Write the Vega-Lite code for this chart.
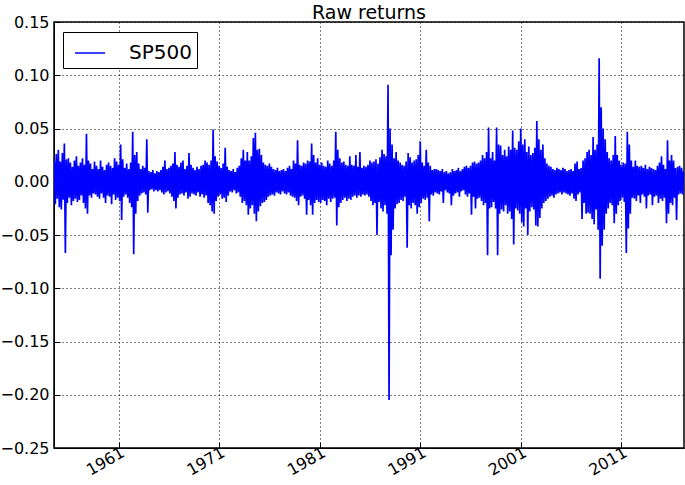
{
"$schema":"https://vega.github.io/schema/vega-lite/v6.json",
"autosize":{"type":"none"},
"padding":{"left":54,"top":22,"right":1,"bottom":37},
"width":630,"height":426,
"background":"white",
"config":{"font":"DejaVu Sans","view":{"stroke":"black","strokeWidth":1.5}},
"title":{"text":"Raw returns","fontSize":19,"fontWeight":"normal","font":"DejaVu Sans","color":"black","offset":0,"dy":9,"anchor":"middle","frame":"group"},
"data":{"values":[
{"t":1954.6,"r":0.02},{"t":1954.7,"r":-0.021},{"t":1954.8,"r":0.026},{"t":1954.9,"r":-0.016},
{"t":1955.0,"r":0.03},{"t":1955.1,"r":-0.024},{"t":1955.2,"r":0.019},{"t":1955.3,"r":-0.026},{"t":1955.4,"r":0.027},{"t":1955.5,"r":-0.017},{"t":1955.6,"r":0.036},{"t":1955.7,"r":-0.067},{"t":1955.8,"r":0.021},{"t":1955.9,"r":-0.02},
{"t":1956.0,"r":0.022},{"t":1956.1,"r":-0.015},{"t":1956.2,"r":0.018},{"t":1956.3,"r":-0.022},{"t":1956.4,"r":0.014},{"t":1956.5,"r":-0.018},{"t":1956.6,"r":0.02},{"t":1956.7,"r":-0.016},{"t":1956.8,"r":0.024},{"t":1956.9,"r":-0.019},
{"t":1957.0,"r":0.015},{"t":1957.1,"r":-0.017},{"t":1957.2,"r":0.018},{"t":1957.3,"r":-0.013},{"t":1957.4,"r":0.022},{"t":1957.5,"r":-0.02},{"t":1957.6,"r":0.016},{"t":1957.7,"r":-0.025},{"t":1957.8,"r":0.045},{"t":1957.9,"r":-0.03},
{"t":1958.0,"r":0.02},{"t":1958.1,"r":-0.013},{"t":1958.2,"r":0.017},{"t":1958.3,"r":-0.015},{"t":1958.4,"r":0.012},{"t":1958.5,"r":-0.011},{"t":1958.6,"r":0.019},{"t":1958.7,"r":-0.012},{"t":1958.8,"r":0.015},{"t":1958.9,"r":-0.014},
{"t":1959.0,"r":0.012},{"t":1959.1,"r":-0.016},{"t":1959.2,"r":0.02},{"t":1959.3,"r":-0.011},{"t":1959.4,"r":0.014},{"t":1959.5,"r":-0.015},{"t":1959.6,"r":0.011},{"t":1959.7,"r":-0.02},{"t":1959.8,"r":0.016},{"t":1959.9,"r":-0.013},
{"t":1960.0,"r":0.018},{"t":1960.1,"r":-0.014},{"t":1960.2,"r":0.015},{"t":1960.3,"r":-0.021},{"t":1960.4,"r":0.013},{"t":1960.5,"r":-0.012},{"t":1960.6,"r":0.022},{"t":1960.7,"r":-0.017},{"t":1960.8,"r":0.019},{"t":1960.9,"r":-0.015},
{"t":1961.0,"r":0.016},{"t":1961.1,"r":-0.018},{"t":1961.2,"r":0.035},{"t":1961.3,"r":-0.036},{"t":1961.4,"r":0.021},{"t":1961.5,"r":-0.014},{"t":1961.6,"r":0.013},{"t":1961.7,"r":-0.012},{"t":1961.8,"r":0.017},{"t":1961.9,"r":-0.015},
{"t":1962.0,"r":0.012},{"t":1962.1,"r":-0.02},{"t":1962.2,"r":0.018},{"t":1962.3,"r":-0.024},{"t":1962.4,"r":0.047},{"t":1962.5,"r":-0.068},{"t":1962.6,"r":0.025},{"t":1962.7,"r":-0.03},{"t":1962.8,"r":0.028},{"t":1962.9,"r":-0.018},
{"t":1963.0,"r":0.017},{"t":1963.1,"r":-0.013},{"t":1963.2,"r":0.012},{"t":1963.3,"r":-0.011},{"t":1963.4,"r":0.015},{"t":1963.5,"r":-0.01},{"t":1963.6,"r":0.013},{"t":1963.7,"r":-0.012},{"t":1963.8,"r":0.04},{"t":1963.9,"r":-0.029},
{"t":1964.0,"r":0.01},{"t":1964.1,"r":-0.008},{"t":1964.2,"r":0.009},{"t":1964.3,"r":-0.007},{"t":1964.4,"r":0.011},{"t":1964.5,"r":-0.009},{"t":1964.6,"r":0.008},{"t":1964.7,"r":-0.008},{"t":1964.8,"r":0.01},{"t":1964.9,"r":-0.009},
{"t":1965.0,"r":0.009},{"t":1965.1,"r":-0.008},{"t":1965.2,"r":0.011},{"t":1965.3,"r":-0.01},{"t":1965.4,"r":0.014},{"t":1965.5,"r":-0.012},{"t":1965.6,"r":0.02},{"t":1965.7,"r":-0.01},{"t":1965.8,"r":0.012},{"t":1965.9,"r":-0.009},
{"t":1966.0,"r":0.013},{"t":1966.1,"r":-0.011},{"t":1966.2,"r":0.015},{"t":1966.3,"r":-0.014},{"t":1966.4,"r":0.017},{"t":1966.5,"r":-0.018},{"t":1966.6,"r":0.028},{"t":1966.7,"r":-0.025},{"t":1966.8,"r":0.016},{"t":1966.9,"r":-0.015},
{"t":1967.0,"r":0.014},{"t":1967.1,"r":-0.012},{"t":1967.2,"r":0.018},{"t":1967.3,"r":-0.011},{"t":1967.4,"r":0.02},{"t":1967.5,"r":-0.013},{"t":1967.6,"r":0.012},{"t":1967.7,"r":-0.01},{"t":1967.8,"r":0.015},{"t":1967.9,"r":-0.016},
{"t":1968.0,"r":0.027},{"t":1968.1,"r":-0.014},{"t":1968.2,"r":0.016},{"t":1968.3,"r":-0.011},{"t":1968.4,"r":0.013},{"t":1968.5,"r":-0.012},{"t":1968.6,"r":0.011},{"t":1968.7,"r":-0.013},{"t":1968.8,"r":0.014},{"t":1968.9,"r":-0.01},
{"t":1969.0,"r":0.012},{"t":1969.1,"r":-0.014},{"t":1969.2,"r":0.015},{"t":1969.3,"r":-0.012},{"t":1969.4,"r":0.016},{"t":1969.5,"r":-0.015},{"t":1969.6,"r":0.02},{"t":1969.7,"r":-0.013},{"t":1969.8,"r":0.018},{"t":1969.9,"r":-0.02},
{"t":1970.0,"r":0.016},{"t":1970.1,"r":-0.022},{"t":1970.2,"r":0.02},{"t":1970.3,"r":-0.028},{"t":1970.4,"r":0.049},{"t":1970.5,"r":-0.03},{"t":1970.6,"r":0.024},{"t":1970.7,"r":-0.018},{"t":1970.8,"r":0.019},{"t":1970.9,"r":-0.014},
{"t":1971.0,"r":0.015},{"t":1971.1,"r":-0.012},{"t":1971.2,"r":0.013},{"t":1971.3,"r":-0.016},{"t":1971.4,"r":0.017},{"t":1971.5,"r":-0.015},{"t":1971.6,"r":0.032},{"t":1971.7,"r":-0.019},{"t":1971.8,"r":0.014},{"t":1971.9,"r":-0.013},
{"t":1972.0,"r":0.011},{"t":1972.1,"r":-0.009},{"t":1972.2,"r":0.01},{"t":1972.3,"r":-0.01},{"t":1972.4,"r":0.012},{"t":1972.5,"r":-0.008},{"t":1972.6,"r":0.009},{"t":1972.7,"r":-0.011},{"t":1972.8,"r":0.013},{"t":1972.9,"r":-0.01},
{"t":1973.0,"r":0.015},{"t":1973.1,"r":-0.014},{"t":1973.2,"r":0.022},{"t":1973.3,"r":-0.02},{"t":1973.4,"r":0.03},{"t":1973.5,"r":-0.018},{"t":1973.6,"r":0.02},{"t":1973.7,"r":-0.022},{"t":1973.8,"r":0.028},{"t":1973.9,"r":-0.031},
{"t":1974.0,"r":0.02},{"t":1974.1,"r":-0.025},{"t":1974.2,"r":0.024},{"t":1974.3,"r":-0.022},{"t":1974.4,"r":0.041},{"t":1974.5,"r":-0.03},{"t":1974.6,"r":0.046},{"t":1974.7,"r":-0.037},{"t":1974.8,"r":0.03},{"t":1974.9,"r":-0.028},
{"t":1975.0,"r":0.031},{"t":1975.1,"r":-0.023},{"t":1975.2,"r":0.025},{"t":1975.3,"r":-0.02},{"t":1975.4,"r":0.018},{"t":1975.5,"r":-0.019},{"t":1975.6,"r":0.016},{"t":1975.7,"r":-0.017},{"t":1975.8,"r":0.015},{"t":1975.9,"r":-0.014},
{"t":1976.0,"r":0.017},{"t":1976.1,"r":-0.013},{"t":1976.2,"r":0.014},{"t":1976.3,"r":-0.012},{"t":1976.4,"r":0.012},{"t":1976.5,"r":-0.013},{"t":1976.6,"r":0.011},{"t":1976.7,"r":-0.01},{"t":1976.8,"r":0.013},{"t":1976.9,"r":-0.011},
{"t":1977.0,"r":0.01},{"t":1977.1,"r":-0.012},{"t":1977.2,"r":0.011},{"t":1977.3,"r":-0.009},{"t":1977.4,"r":0.012},{"t":1977.5,"r":-0.011},{"t":1977.6,"r":0.01},{"t":1977.7,"r":-0.012},{"t":1977.8,"r":0.013},{"t":1977.9,"r":-0.01},
{"t":1978.0,"r":0.015},{"t":1978.1,"r":-0.013},{"t":1978.2,"r":0.012},{"t":1978.3,"r":-0.014},{"t":1978.4,"r":0.02},{"t":1978.5,"r":-0.015},{"t":1978.6,"r":0.017},{"t":1978.7,"r":-0.018},{"t":1978.8,"r":0.039},{"t":1978.9,"r":-0.022},
{"t":1979.0,"r":0.016},{"t":1979.1,"r":-0.014},{"t":1979.2,"r":0.015},{"t":1979.3,"r":-0.013},{"t":1979.4,"r":0.018},{"t":1979.5,"r":-0.016},{"t":1979.6,"r":0.017},{"t":1979.7,"r":-0.031},{"t":1979.8,"r":0.02},{"t":1979.9,"r":-0.017},
{"t":1980.0,"r":0.019},{"t":1980.1,"r":-0.022},{"t":1980.2,"r":0.036},{"t":1980.3,"r":-0.031},{"t":1980.4,"r":0.025},{"t":1980.5,"r":-0.02},{"t":1980.6,"r":0.018},{"t":1980.7,"r":-0.017},{"t":1980.8,"r":0.022},{"t":1980.9,"r":-0.019},
{"t":1981.0,"r":0.016},{"t":1981.1,"r":-0.02},{"t":1981.2,"r":0.018},{"t":1981.3,"r":-0.017},{"t":1981.4,"r":0.015},{"t":1981.5,"r":-0.018},{"t":1981.6,"r":0.014},{"t":1981.7,"r":-0.022},{"t":1981.8,"r":0.02},{"t":1981.9,"r":-0.016},
{"t":1982.0,"r":0.017},{"t":1982.1,"r":-0.019},{"t":1982.2,"r":0.015},{"t":1982.3,"r":-0.016},{"t":1982.4,"r":0.02},{"t":1982.5,"r":-0.015},{"t":1982.6,"r":0.047},{"t":1982.7,"r":-0.041},{"t":1982.8,"r":0.03},{"t":1982.9,"r":-0.024},
{"t":1983.0,"r":0.022},{"t":1983.1,"r":-0.02},{"t":1983.2,"r":0.018},{"t":1983.3,"r":-0.017},{"t":1983.4,"r":0.019},{"t":1983.5,"r":-0.015},{"t":1983.6,"r":0.016},{"t":1983.7,"r":-0.018},{"t":1983.8,"r":0.015},{"t":1983.9,"r":-0.016},
{"t":1984.0,"r":0.024},{"t":1984.1,"r":-0.017},{"t":1984.2,"r":0.016},{"t":1984.3,"r":-0.014},{"t":1984.4,"r":0.015},{"t":1984.5,"r":-0.013},{"t":1984.6,"r":0.025},{"t":1984.7,"r":-0.015},{"t":1984.8,"r":0.014},{"t":1984.9,"r":-0.013},
{"t":1985.0,"r":0.028},{"t":1985.1,"r":-0.014},{"t":1985.2,"r":0.013},{"t":1985.3,"r":-0.012},{"t":1985.4,"r":0.015},{"t":1985.5,"r":-0.013},{"t":1985.6,"r":0.014},{"t":1985.7,"r":-0.012},{"t":1985.8,"r":0.016},{"t":1985.9,"r":-0.014},
{"t":1986.0,"r":0.02},{"t":1986.1,"r":-0.018},{"t":1986.2,"r":0.018},{"t":1986.3,"r":-0.022},{"t":1986.4,"r":0.019},{"t":1986.5,"r":-0.02},{"t":1986.6,"r":0.021},{"t":1986.7,"r":-0.05},{"t":1986.8,"r":0.017},{"t":1986.9,"r":-0.019},
{"t":1987.0,"r":0.023},{"t":1987.1,"r":-0.025},{"t":1987.2,"r":0.03},{"t":1987.3,"r":-0.028},{"t":1987.4,"r":0.026},{"t":1987.5,"r":-0.022},{"t":1987.6,"r":0.024},{"t":1987.7,"r":-0.03},{"t":1987.8,"r":0.091},{"t":1987.9,"r":-0.205},
{"t":1988.0,"r":0.05},{"t":1988.1,"r":-0.069},{"t":1988.2,"r":0.035},{"t":1988.3,"r":-0.045},{"t":1988.4,"r":0.022},{"t":1988.5,"r":-0.025},{"t":1988.6,"r":0.028},{"t":1988.7,"r":-0.021},{"t":1988.8,"r":0.02},{"t":1988.9,"r":-0.02},
{"t":1989.0,"r":0.018},{"t":1989.1,"r":-0.017},{"t":1989.2,"r":0.016},{"t":1989.3,"r":-0.018},{"t":1989.4,"r":0.015},{"t":1989.5,"r":-0.014},{"t":1989.6,"r":0.019},{"t":1989.7,"r":-0.062},{"t":1989.8,"r":0.027},{"t":1989.9,"r":-0.022},
{"t":1990.0,"r":0.023},{"t":1990.1,"r":-0.025},{"t":1990.2,"r":0.018},{"t":1990.3,"r":-0.02},{"t":1990.4,"r":0.02},{"t":1990.5,"r":-0.022},{"t":1990.6,"r":0.021},{"t":1990.7,"r":-0.03},{"t":1990.8,"r":0.025},{"t":1990.9,"r":-0.024},
{"t":1991.0,"r":0.038},{"t":1991.1,"r":-0.02},{"t":1991.2,"r":0.018},{"t":1991.3,"r":-0.016},{"t":1991.4,"r":0.015},{"t":1991.5,"r":-0.017},{"t":1991.6,"r":0.03},{"t":1991.7,"r":-0.015},{"t":1991.8,"r":0.018},{"t":1991.9,"r":-0.037},
{"t":1992.0,"r":0.015},{"t":1992.1,"r":-0.012},{"t":1992.2,"r":0.011},{"t":1992.3,"r":-0.013},{"t":1992.4,"r":0.012},{"t":1992.5,"r":-0.01},{"t":1992.6,"r":0.012},{"t":1992.7,"r":-0.011},{"t":1992.8,"r":0.011},{"t":1992.9,"r":-0.012},
{"t":1993.0,"r":0.01},{"t":1993.1,"r":-0.009},{"t":1993.2,"r":0.012},{"t":1993.3,"r":-0.02},{"t":1993.4,"r":0.009},{"t":1993.5,"r":-0.008},{"t":1993.6,"r":0.01},{"t":1993.7,"r":-0.01},{"t":1993.8,"r":0.008},{"t":1993.9,"r":-0.011},
{"t":1994.0,"r":0.009},{"t":1994.1,"r":-0.022},{"t":1994.2,"r":0.012},{"t":1994.3,"r":-0.013},{"t":1994.4,"r":0.01},{"t":1994.5,"r":-0.011},{"t":1994.6,"r":0.011},{"t":1994.7,"r":-0.01},{"t":1994.8,"r":0.013},{"t":1994.9,"r":-0.014},
{"t":1995.0,"r":0.01},{"t":1995.1,"r":-0.009},{"t":1995.2,"r":0.012},{"t":1995.3,"r":-0.008},{"t":1995.4,"r":0.014},{"t":1995.5,"r":-0.012},{"t":1995.6,"r":0.015},{"t":1995.7,"r":-0.014},{"t":1995.8,"r":0.013},{"t":1995.9,"r":-0.011},
{"t":1996.0,"r":0.015},{"t":1996.1,"r":-0.031},{"t":1996.2,"r":0.018},{"t":1996.3,"r":-0.014},{"t":1996.4,"r":0.019},{"t":1996.5,"r":-0.025},{"t":1996.6,"r":0.017},{"t":1996.7,"r":-0.016},{"t":1996.8,"r":0.018},{"t":1996.9,"r":-0.015},
{"t":1997.0,"r":0.02},{"t":1997.1,"r":-0.018},{"t":1997.2,"r":0.025},{"t":1997.3,"r":-0.022},{"t":1997.4,"r":0.022},{"t":1997.5,"r":-0.02},{"t":1997.6,"r":0.028},{"t":1997.7,"r":-0.069},{"t":1997.8,"r":0.051},{"t":1997.9,"r":-0.025},
{"t":1998.0,"r":0.022},{"t":1998.1,"r":-0.024},{"t":1998.2,"r":0.028},{"t":1998.3,"r":-0.019},{"t":1998.4,"r":0.02},{"t":1998.5,"r":-0.025},{"t":1998.6,"r":0.051},{"t":1998.7,"r":-0.069},{"t":1998.8,"r":0.035},{"t":1998.9,"r":-0.03},
{"t":1999.0,"r":0.034},{"t":1999.1,"r":-0.026},{"t":1999.2,"r":0.025},{"t":1999.3,"r":-0.028},{"t":1999.4,"r":0.03},{"t":1999.5,"r":-0.022},{"t":1999.6,"r":0.024},{"t":1999.7,"r":-0.03},{"t":1999.8,"r":0.033},{"t":1999.9,"r":-0.028},
{"t":2000.0,"r":0.03},{"t":2000.1,"r":-0.035},{"t":2000.2,"r":0.048},{"t":2000.3,"r":-0.059},{"t":2000.4,"r":0.032},{"t":2000.5,"r":-0.025},{"t":2000.6,"r":0.03},{"t":2000.7,"r":-0.027},{"t":2000.8,"r":0.038},{"t":2000.9,"r":-0.03},
{"t":2001.0,"r":0.05},{"t":2001.1,"r":-0.038},{"t":2001.2,"r":0.035},{"t":2001.3,"r":-0.042},{"t":2001.4,"r":0.04},{"t":2001.5,"r":-0.025},{"t":2001.6,"r":0.028},{"t":2001.7,"r":-0.05},{"t":2001.8,"r":0.033},{"t":2001.9,"r":-0.028},
{"t":2002.0,"r":0.025},{"t":2002.1,"r":-0.024},{"t":2002.2,"r":0.027},{"t":2002.3,"r":-0.026},{"t":2002.4,"r":0.032},{"t":2002.5,"r":-0.041},{"t":2002.6,"r":0.057},{"t":2002.7,"r":-0.042},{"t":2002.8,"r":0.04},{"t":2002.9,"r":-0.034},
{"t":2003.0,"r":0.03},{"t":2003.1,"r":-0.025},{"t":2003.2,"r":0.035},{"t":2003.3,"r":-0.02},{"t":2003.4,"r":0.022},{"t":2003.5,"r":-0.018},{"t":2003.6,"r":0.017},{"t":2003.7,"r":-0.016},{"t":2003.8,"r":0.015},{"t":2003.9,"r":-0.014},
{"t":2004.0,"r":0.014},{"t":2004.1,"r":-0.013},{"t":2004.2,"r":0.012},{"t":2004.3,"r":-0.015},{"t":2004.4,"r":0.011},{"t":2004.5,"r":-0.012},{"t":2004.6,"r":0.013},{"t":2004.7,"r":-0.011},{"t":2004.8,"r":0.012},{"t":2004.9,"r":-0.01},
{"t":2005.0,"r":0.011},{"t":2005.1,"r":-0.012},{"t":2005.2,"r":0.013},{"t":2005.3,"r":-0.01},{"t":2005.4,"r":0.012},{"t":2005.5,"r":-0.011},{"t":2005.6,"r":0.01},{"t":2005.7,"r":-0.012},{"t":2005.8,"r":0.011},{"t":2005.9,"r":-0.013},
{"t":2006.0,"r":0.012},{"t":2006.1,"r":-0.011},{"t":2006.2,"r":0.01},{"t":2006.3,"r":-0.016},{"t":2006.4,"r":0.017},{"t":2006.5,"r":-0.018},{"t":2006.6,"r":0.019},{"t":2006.7,"r":-0.012},{"t":2006.8,"r":0.012},{"t":2006.9,"r":-0.01},
{"t":2007.0,"r":0.013},{"t":2007.1,"r":-0.035},{"t":2007.2,"r":0.02},{"t":2007.3,"r":-0.02},{"t":2007.4,"r":0.022},{"t":2007.5,"r":-0.03},{"t":2007.6,"r":0.028},{"t":2007.7,"r":-0.029},{"t":2007.8,"r":0.03},{"t":2007.9,"r":-0.03},
{"t":2008.0,"r":0.025},{"t":2008.1,"r":-0.035},{"t":2008.2,"r":0.042},{"t":2008.3,"r":-0.04},{"t":2008.4,"r":0.03},{"t":2008.5,"r":-0.026},{"t":2008.6,"r":0.035},{"t":2008.7,"r":-0.045},{"t":2008.8,"r":0.116},{"t":2008.9,"r":-0.091},
{"t":2009.0,"r":0.07},{"t":2009.1,"r":-0.06},{"t":2009.2,"r":0.05},{"t":2009.3,"r":-0.045},{"t":2009.4,"r":0.04},{"t":2009.5,"r":-0.03},{"t":2009.6,"r":0.028},{"t":2009.7,"r":-0.025},{"t":2009.8,"r":0.022},{"t":2009.9,"r":-0.02},
{"t":2010.0,"r":0.02},{"t":2010.1,"r":-0.022},{"t":2010.2,"r":0.025},{"t":2010.3,"r":-0.039},{"t":2010.4,"r":0.043},{"t":2010.5,"r":-0.03},{"t":2010.6,"r":0.025},{"t":2010.7,"r":-0.022},{"t":2010.8,"r":0.02},{"t":2010.9,"r":-0.018},
{"t":2011.0,"r":0.016},{"t":2011.1,"r":-0.015},{"t":2011.2,"r":0.018},{"t":2011.3,"r":-0.019},{"t":2011.4,"r":0.017},{"t":2011.5,"r":-0.067},{"t":2011.6,"r":0.047},{"t":2011.7,"r":-0.044},{"t":2011.8,"r":0.035},{"t":2011.9,"r":-0.03},
{"t":2012.0,"r":0.02},{"t":2012.1,"r":-0.015},{"t":2012.2,"r":0.014},{"t":2012.3,"r":-0.016},{"t":2012.4,"r":0.02},{"t":2012.5,"r":-0.018},{"t":2012.6,"r":0.015},{"t":2012.7,"r":-0.013},{"t":2012.8,"r":0.014},{"t":2012.9,"r":-0.02},
{"t":2013.0,"r":0.015},{"t":2013.1,"r":-0.012},{"t":2013.2,"r":0.013},{"t":2013.3,"r":-0.014},{"t":2013.4,"r":0.016},{"t":2013.5,"r":-0.025},{"t":2013.6,"r":0.012},{"t":2013.7,"r":-0.013},{"t":2013.8,"r":0.014},{"t":2013.9,"r":-0.012},
{"t":2014.0,"r":0.013},{"t":2014.1,"r":-0.022},{"t":2014.2,"r":0.012},{"t":2014.3,"r":-0.014},{"t":2014.4,"r":0.011},{"t":2014.5,"r":-0.013},{"t":2014.6,"r":0.015},{"t":2014.7,"r":-0.02},{"t":2014.8,"r":0.018},{"t":2014.9,"r":-0.016},
{"t":2015.0,"r":0.024},{"t":2015.1,"r":-0.018},{"t":2015.2,"r":0.016},{"t":2015.3,"r":-0.015},{"t":2015.4,"r":0.012},{"t":2015.5,"r":-0.039},{"t":2015.6,"r":0.039},{"t":2015.7,"r":-0.03},{"t":2015.8,"r":0.02},{"t":2015.9,"r":-0.02},
{"t":2016.0,"r":0.025},{"t":2016.1,"r":-0.022},{"t":2016.2,"r":0.02},{"t":2016.3,"r":-0.015},{"t":2016.4,"r":0.013},{"t":2016.5,"r":-0.036},{"t":2016.6,"r":0.014},{"t":2016.7,"r":-0.012},{"t":2016.8,"r":0.015},{"t":2016.9,"r":-0.011},
{"t":2017.0,"r":0.013},{"t":2017.1,"r":-0.012},{"t":2017.2,"r":0.01}
]},
"mark":{"type":"line","strokeWidth":1.7,"clip":true},
"encoding":{
"x":{"field":"t","type":"quantitative","scale":{"domain":[1954.57,2017.24],"nice":false,"zero":false},
"axis":{"title":null,"values":[1961,1971,1981,1991,2001,2011],"format":"d","labelAngle":-30,"labelAlign":"right","labelBaseline":"top","labelFontSize":16,"labelColor":"black","labelFont":"DejaVu Sans","tickSize":-6,"tickColor":"black","labelPadding":2,"domainColor":"black","grid":true,"gridColor":"black","gridDash":[1,3],"gridOpacity":1,"gridWidth":1,"labelOverlap":false}},
"y":{"field":"r","type":"quantitative","scale":{"domain":[-0.25,0.15],"nice":false,"zero":false},
"axis":{"title":null,"values":[-0.25,-0.2,-0.15,-0.1,-0.05,0,0.05,0.1,0.15],"format":".2f","labelFontSize":16,"labelColor":"black","labelFont":"DejaVu Sans","tickSize":-6,"tickColor":"black","labelPadding":11,"domainColor":"black","grid":true,"gridColor":"black","gridDash":[1,3],"gridOpacity":1,"gridWidth":1,"labelOverlap":false,"labelBaseline":"middle"}},
"color":{"datum":"SP500","type":"nominal","scale":{"range":["#0000ff"]},
"legend":{"title":null,"orient":"none","legendX":9,"legendY":10,"strokeColor":"black","fillColor":"white","padding":5,"symbolType":"stroke","symbolSize":900,"symbolStrokeWidth":1.5,"labelFontSize":20,"labelFont":"DejaVu Sans","labelColor":"black","labelOffset":23,"symbolOffset":6,"cornerRadius":0}}
}
}
